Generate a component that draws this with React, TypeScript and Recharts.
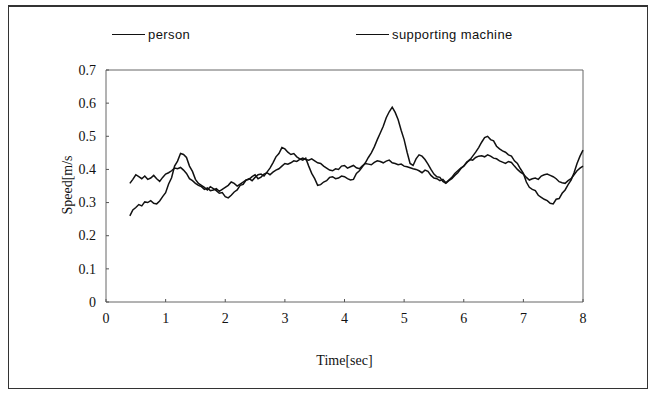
import React from 'react'
import { LineChart, Line, XAxis, YAxis, Legend, ReferenceArea, Label } from 'recharts'

// sample times (sec), shared by both recordings
const times = [
  0.4, 0.45, 0.5, 0.55, 0.6, 0.65, 0.7, 0.75, 0.8, 0.85,
  0.9, 0.95, 1.0, 1.05, 1.1, 1.15, 1.2, 1.25, 1.3, 1.35,
  1.4, 1.45, 1.5, 1.55, 1.6, 1.65, 1.7, 1.75, 1.8, 1.85,
  1.9, 1.95, 2.0, 2.05, 2.1, 2.15, 2.2, 2.25, 2.3, 2.35,
  2.4, 2.45, 2.5, 2.55, 2.6, 2.65, 2.7, 2.75, 2.8, 2.85,
  2.9, 2.95, 3.0, 3.05, 3.1, 3.15, 3.2, 3.25, 3.3, 3.35,
  3.4, 3.45, 3.5, 3.55, 3.6, 3.65, 3.7, 3.75, 3.8, 3.85,
  3.9, 3.95, 4.0, 4.05, 4.1, 4.15, 4.2, 4.25, 4.3, 4.35,
  4.4, 4.45, 4.5, 4.55, 4.6, 4.65, 4.7, 4.75, 4.8, 4.85,
  4.9, 4.95, 5.0, 5.05, 5.1, 5.15, 5.2, 5.25, 5.3, 5.35,
  5.4, 5.45, 5.5, 5.55, 5.6, 5.65, 5.7, 5.75, 5.8, 5.85,
  5.9, 5.95, 6.0, 6.05, 6.1, 6.15, 6.2, 6.25, 6.3, 6.35,
  6.4, 6.45, 6.5, 6.55, 6.6, 6.65, 6.7, 6.75, 6.8, 6.85,
  6.9, 6.95, 7.0, 7.05, 7.1, 7.15, 7.2, 7.25, 7.3, 7.35,
  7.4, 7.45, 7.5, 7.55, 7.6, 7.65, 7.7, 7.75, 7.8, 7.85,
  7.9, 7.95, 8.0,
]

// speed [m/s]
const personSpeed = [
  0.26, 0.278, 0.285, 0.294, 0.29, 0.302, 0.3, 0.306, 0.298, 0.296,
  0.305, 0.318, 0.33, 0.356, 0.375, 0.41, 0.425, 0.448, 0.445, 0.436,
  0.41, 0.394, 0.37, 0.358, 0.352, 0.346, 0.338, 0.348, 0.342, 0.336,
  0.328, 0.33, 0.318, 0.314, 0.322, 0.332, 0.338, 0.352, 0.355, 0.368,
  0.372, 0.366, 0.376, 0.384, 0.386, 0.38, 0.392, 0.404, 0.42, 0.438,
  0.448, 0.466, 0.462, 0.452, 0.445, 0.448, 0.438, 0.432, 0.428, 0.434,
  0.41, 0.388, 0.372, 0.352, 0.354, 0.362, 0.366, 0.376, 0.378, 0.372,
  0.374, 0.38, 0.378, 0.372, 0.368, 0.37, 0.388, 0.396, 0.408, 0.42,
  0.436, 0.45, 0.468, 0.49, 0.51, 0.53, 0.556, 0.574, 0.588, 0.572,
  0.55, 0.518, 0.49, 0.452, 0.418, 0.412, 0.432, 0.444, 0.44, 0.43,
  0.416, 0.4, 0.386, 0.378, 0.376, 0.364, 0.358, 0.366, 0.372, 0.382,
  0.39, 0.402, 0.41, 0.422, 0.428, 0.44, 0.452, 0.466, 0.482, 0.496,
  0.5, 0.49, 0.486, 0.47, 0.462, 0.456, 0.452, 0.444, 0.44, 0.426,
  0.418, 0.402, 0.388, 0.362, 0.346, 0.34, 0.336, 0.322, 0.316, 0.31,
  0.306, 0.298, 0.296, 0.31, 0.312, 0.328, 0.338, 0.354, 0.368, 0.39,
  0.418, 0.44, 0.458,
]

const machineSpeed = [
  0.358, 0.37, 0.384, 0.378, 0.372, 0.38, 0.37, 0.374, 0.382, 0.372,
  0.364, 0.376, 0.386, 0.39, 0.396, 0.404, 0.402, 0.406, 0.398, 0.388,
  0.372, 0.366, 0.358, 0.352, 0.348, 0.34, 0.344, 0.336, 0.338, 0.342,
  0.334, 0.34, 0.346, 0.352, 0.362, 0.358, 0.35, 0.356, 0.362, 0.368,
  0.37, 0.378, 0.384, 0.372, 0.377, 0.386, 0.39, 0.384, 0.392, 0.398,
  0.402, 0.41, 0.418, 0.416, 0.42, 0.426, 0.424, 0.43, 0.434, 0.43,
  0.428, 0.432, 0.426, 0.42, 0.418, 0.41, 0.404, 0.398, 0.396, 0.402,
  0.4, 0.41, 0.412, 0.404, 0.408, 0.412, 0.405, 0.402, 0.411, 0.418,
  0.416, 0.414, 0.421, 0.426, 0.424, 0.42, 0.425, 0.428, 0.42, 0.418,
  0.414, 0.416, 0.41, 0.408, 0.405, 0.402, 0.4, 0.396, 0.39, 0.398,
  0.394, 0.382, 0.374, 0.372, 0.366, 0.37, 0.36, 0.368, 0.376, 0.388,
  0.396, 0.404, 0.41, 0.42, 0.43, 0.428, 0.436, 0.44, 0.441, 0.438,
  0.444, 0.44, 0.434, 0.432, 0.426, 0.422, 0.418, 0.424, 0.421, 0.41,
  0.4, 0.392, 0.386, 0.376, 0.368, 0.372, 0.374, 0.37, 0.38, 0.384,
  0.386, 0.382, 0.378, 0.372, 0.363, 0.36, 0.358, 0.366, 0.372, 0.384,
  0.396, 0.404, 0.41,
]

const xTicks = [0, 1, 2, 3, 4, 5, 6, 7, 8]
const yTicks = [0, 0.1, 0.2, 0.3, 0.4, 0.5, 0.6, 0.7]

const data = times.map((t, i) => ({ t, person: personSpeed[i], machine: machineSpeed[i] }))

const serif = '"Liberation Serif", "Times New Roman", serif'
const ink = '#111'
const labelStyle = { fill: ink, fontFamily: serif, fontSize: 14 }

function XTick({ x, y, payload }: any) {
  return (
    <text x={x} y={y} dy="0.71em" textAnchor="middle" style={labelStyle}>
      {payload.value}
    </text>
  )
}

function YTick({ x, y, payload }: any) {
  return (
    <text x={x} y={y} dy="0.34em" textAnchor="end" style={labelStyle}>
      {payload.value}
    </text>
  )
}

function LegendRow() {
  const item = (left: number, text: string) => (
    <div style={{ position: 'absolute', left, top: 0, display: 'flex', alignItems: 'center' }}>
      <span style={{ display: 'inline-block', width: 33, borderTop: `1px solid ${ink}`, marginRight: 3 }} />
      <span style={{ fontFamily: '"Liberation Sans", Arial, sans-serif', fontSize: 13, letterSpacing: 0.4, color: ink }}>
        {text}
      </span>
    </div>
  )
  return (
    <div style={{ position: 'relative', height: 18 }}>
      {item(103, 'person')}
      {item(347, 'supporting machine')}
    </div>
  )
}

export default function App() {
  return (
    <div
      style={{
        position: 'absolute',
        left: 8,
        top: 5,
        width: 638,
        height: 381,
        border: '1px solid #333',
        borderTopWidth: 2,
        background: '#fff',
      }}
    >
      <LineChart width={638} height={381} data={data} margin={{ top: 45, right: 64, bottom: 21, left: 37 }}>
        <Legend verticalAlign="top" wrapperStyle={{ top: 20, left: 0, width: 638 }} content={() => <LegendRow />} />
        <ReferenceArea x1={0} x2={8} y1={0} y2={0.7} fill="none" stroke="#666" strokeWidth={1} />
        <XAxis
          dataKey="t"
          type="number"
          domain={[0, 8]}
          ticks={xTicks}
          axisLine={false}
          tickSize={-3}
          tickMargin={14}
          stroke="#555"
          height={65}
          tick={<XTick />}
        >
          <Label value="Time[sec]" position="insideBottom" offset={2} style={labelStyle} />
        </XAxis>
        <YAxis
          type="number"
          domain={[0, 0.7]}
          ticks={yTicks}
          axisLine={false}
          tickSize={-3}
          tickMargin={13}
          stroke="#555"
          width={60}
          tick={<YTick />}
        >
          <Label
            content={({ viewBox }: any) => (
              <text
                x={viewBox.x + 21}
                y={viewBox.y + 115}
                transform={`rotate(-90 ${viewBox.x + 21} ${viewBox.y + 115})`}
                textAnchor="middle"
                dominantBaseline="central"
                style={labelStyle}
              >
                Speed[m/s
              </text>
            )}
          />
        </YAxis>
        <Line dataKey="person" type="linear" stroke={ink} strokeWidth={1.5} dot={false} isAnimationActive={false} />
        <Line dataKey="machine" type="linear" stroke={ink} strokeWidth={1.5} dot={false} isAnimationActive={false} />
      </LineChart>
    </div>
  )
}
